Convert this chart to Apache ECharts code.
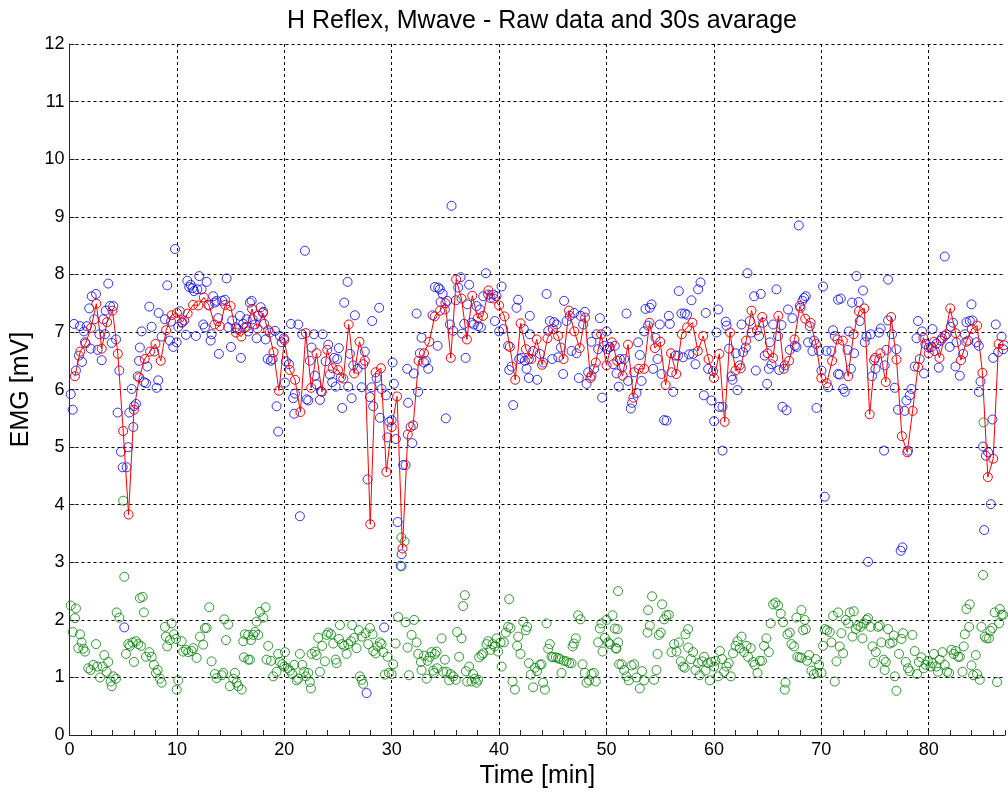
<!DOCTYPE html>
<html><head><meta charset="utf-8">
<script src="https://cdn.jsdelivr.net/npm/echarts@6/dist/echarts.min.js"></script>
<style>html,body{margin:0;padding:0;background:#fff}#c{width:1008px;height:794px}</style>
</head><body><div id="c"></div>
<script>
// 30 s averages (one value every 0.5 min, starting at 0.5 min)
const avgStep = 0.5;
const avgValues = [6.23,6.66,6.80,7.07,7.49,6.71,7.17,7.37,6.62,5.28,3.83,5.65,6.21,6.53,6.66,6.79,6.50,7.03,7.29,7.33,7.17,7.32,7.47,7.46,7.60,7.46,7.13,7.10,
7.47,7.45,6.99,6.92,7.09,7.40,7.06,7.33,7.03,6.65,5.98,6.86,6.34,6.17,5.61,6.98,6.03,6.63,5.96,6.69,6.37,6.34,6.19,7.13,6.28,6.83,6.50,3.66,6.30,
6.37,4.57,5.35,5.88,3.24,5.22,5.38,6.50,6.63,6.83,7.27,7.37,7.50,6.55,7.91,7.58,6.87,7.63,7.24,7.28,7.72,7.58,7.46,7.27,6.74,6.17,7.15,6.70,
6.53,6.87,6.43,6.89,7.05,6.93,6.53,7.37,7.01,6.72,7.25,6.20,6.47,6.96,6.42,6.82,6.50,6.24,6.78,5.86,6.36,6.36,7.16,6.72,6.83,6.08,6.63,6.27,6.96,
7.08,7.16,6.67,6.93,6.53,6.20,6.62,5.44,6.99,6.33,6.37,6.85,7.37,7.03,7.26,6.63,6.55,7.28,6.36,6.50,6.87,7.45,7.23,7.16,6.79,6.20,6.11,6.50,6.87,
6.85,6.23,6.96,7.36,7.41,5.57,6.55,6.63,6.13,7.26,6.52,5.19,4.91,5.63,6.39,6.90,6.63,6.83,6.55,6.93,7.41,6.98,6.51,6.83,7.05,7.11,6.29,4.48,4.80,6.79,6.77];

// H reflex raw data [time min, mV]
const hReflexRaw = [
[0.11,5.92],[0.3,5.65],[0.42,7.14],[0.6,6.33],[0.88,6.59],[0.98,7.10],[1.16,6.48],[1.35,7.01],[1.44,6.82],[1.6,7.10],[1.84,7.41],[1.97,6.71],[2.07,7.62],[2.31,7.22],[2.47,7.66],[2.62,6.69],[2.78,6.96],[3.0,6.51],[3.15,7.22],[3.3,6.96],[3.37,7.37],[3.61,7.84],[3.77,7.45],[3.93,6.81],[4.08,7.45],[4.33,6.87],[4.48,5.60],[4.64,6.33],[4.79,4.92],[4.95,4.65],[5.32,4.65],[5.47,5.0],[5.57,5.60],[5.79,6.01],[5.94,5.35],[6.0,5.71],[6.19,5.75],[6.35,6.23],[6.47,6.50],[6.55,6.73],[6.72,7.01],[6.93,6.13],[7.12,6.11],[7.24,6.40],[7.43,7.44],[7.65,7.09],[7.9,6.66],[8.11,6.03],[8.26,6.16],[8.3,7.33],[8.58,6.92],[8.89,7.22],[9.1,7.81],[9.35,6.85],[9.45,7.18],[9.66,6.74],[9.82,8.44],[9.98,6.82],[10.13,7.09],[10.28,7.36],[10.44,7.16],[10.69,7.20],[10.84,6.95],[10.97,7.89],[11.15,7.78],[11.28,7.82],[11.46,7.76],[11.59,7.71],[11.77,6.93],[11.9,7.74],[12.08,7.97],[12.3,7.74],[12.45,7.13],[12.61,7.08],[12.77,7.87],[12.92,7.47],[13.14,6.85],[13.23,6.96],[13.38,7.62],[13.54,7.51],[13.7,7.54],[13.85,7.24],[13.91,6.62],[5.1,1.87],
[14.22,7.54],[14.47,7.56],[14.63,7.93],[14.78,7.08],[15.03,6.74],[15.15,7.20],[15.47,7.08],[15.66,7.05],[15.87,7.28],[15.96,6.55],[16.18,7.14],[16.33,7.08],[16.49,7.22],[16.64,7.01],[16.8,7.51],[16.96,7.54],[17.05,7.22],[17.27,7.13],[17.42,6.89],[17.57,7.28],[17.8,7.43],[18.04,7.35],[18.13,7.14],[18.26,6.87],[18.45,6.53],[18.66,6.99],[18.75,6.50],[18.91,6.53],[19.13,7.02],[19.28,5.71],[19.43,5.27],[19.59,6.93],[19.75,6.82],[19.96,6.89],[20.06,6.12],[20.15,6.49],[20.43,6.44],[20.62,7.14],[20.83,5.85],[20.99,5.93],[20.92,5.58],[21.3,7.13],[21.45,3.80],[21.67,6.96],[21.92,8.41],[22.08,5.83],[22.23,5.81],[22.38,6.50],[22.54,6.73],[22.76,6.96],[22.85,6.24],[23.0,6.09],[23.32,5.82],[23.41,5.97],[23.57,6.96],[23.85,6.49],[24.09,6.78],[24.25,6.26],[24.46,6.13],[24.65,6.55],[24.78,6.05],[24.93,6.53],[25.08,6.72],[25.27,6.21],[25.39,5.68],[25.58,7.51],[25.89,7.87],[25.95,6.05],[26.11,6.62],[26.27,5.85],[26.42,6.42],[26.57,7.29],[26.82,6.36],[27.2,6.04],[27.35,6.44],[27.5,6.66],[27.75,4.44],[27.97,5.87],[28.13,6.04],[28.18,7.19],[28.28,5.71],[27.66,0.73],[29.3,1.87],
[28.83,7.42],[28.59,6.20],[28.9,5.51],[29.06,6.01],[29.46,5.90],[29.58,5.17],[29.77,5.44],[29.99,5.47],[30.08,6.47],[30.2,6.10],[30.39,5.14],[30.55,3.70],[30.83,2.94],[30.92,3.14],[31.07,4.69],[31.29,4.69],[31.44,6.36],[31.53,5.77],[31.76,5.35],[31.91,5.07],[32.06,6.28],[32.32,7.32],[32.46,5.96],[32.62,6.63],[32.78,6.90],[33.0,6.47],[33.18,6.50],[33.4,6.36],[33.8,7.29],[34.02,7.78],[34.27,6.76],[34.33,7.77],[34.48,7.74],[34.55,7.52],[34.74,7.66],[34.95,7.39],[35.04,5.50],[35.16,7.54],[35.42,7.13],[35.57,9.19],[35.72,7.02],[35.97,7.55],[36.19,7.77],[36.41,7.95],[36.56,6.97],[36.75,7.14],[36.88,6.55],[37.03,7.48],[37.21,7.82],[37.43,7.16],[37.65,7.13],[37.9,7.45],[38.05,7.10],[38.21,7.39],[38.3,7.08],[38.52,7.62],[38.77,8.02],[38.98,7.65],[39.2,7.59],[39.45,7.65],[39.6,7.19],[39.76,7.62],[40.0,7.01],[40.23,7.79],[40.38,7.05],[40.84,6.76],[40.94,6.34],[41.16,6.40],[41.31,5.73],[41.62,7.42],[41.77,7.56],[41.87,6.53],[42.09,6.55],[42.3,7.05],[42.4,6.50],[42.55,6.36],
[42.86,7.28],[42.86,6.96],[42.77,6.53],[42.77,6.20],[43.17,6.67],[43.54,6.17],[43.79,6.62],[44.1,6.47],[44.42,7.66],[44.57,7.02],[44.72,7.19],[44.94,6.53],[45.12,7.17],[45.35,7.13],[45.5,6.56],[45.75,6.73],[45.96,6.27],[46.05,7.54],[46.28,7.19],[46.58,7.28],[46.74,6.67],[46.98,7.33],[47.21,6.63],[47.42,6.20],[47.58,7.28],[47.82,7.13],[47.98,7.35],[48.14,6.10],[48.29,6.30],[48.6,6.24],[48.6,6.83],[48.85,6.36],[49.07,6.96],[49.22,6.70],[49.38,7.24],[49.59,5.86],[49.78,6.76],[50.0,7.01],[50.06,6.70],[50.31,6.74],[50.62,6.44],[50.77,6.76],[50.93,6.28],[51.14,6.05],[51.24,6.53],[51.45,6.39],[51.64,6.53],[51.86,7.32],[52.01,6.15],[52.26,5.67],[52.38,5.77],[52.57,6.30],[52.79,5.94],[52.94,6.82],[53.1,6.60],[53.26,6.15],[53.5,7.01],[53.63,7.40],[53.87,7.11],[54.03,7.42],[54.19,7.48],[54.34,6.36],[54.56,6.90],[54.75,6.53],[54.96,7.13],[55.12,6.27],[55.36,5.47],[55.59,5.46],[55.8,7.28],[55.89,7.14],[56.05,6.30],[56.2,5.96],[56.42,6.59],[56.66,6.59],[56.73,7.71],[56.98,7.32],[57.13,6.56],
[57.29,7.32],[57.5,7.30],[57.69,6.61],[57.91,7.55],[58.06,6.62],[58.28,6.44],[58.53,7.74],[58.75,7.86],[59.06,5.90],[59.24,7.33],[59.46,6.36],[59.77,5.81],[59.92,6.32],[60.02,5.45],[60.39,7.39],[60.24,6.99],[60.48,5.70],[60.8,5.70],[60.8,4.94],[61.1,7.18],[61.17,7.11],[61.41,6.71],[61.63,6.23],[61.73,6.17],[62.03,6.63],[62.19,5.99],[62.41,6.42],[62.57,7.13],[62.71,6.65],[62.97,6.73],[63.12,8.02],[63.34,7.19],[63.5,6.99],[63.74,7.62],[63.9,6.33],[64.2,6.93],[64.36,7.66],[64.58,7.16],[64.73,6.59],[64.95,6.10],[65.11,6.36],[65.2,6.82],[65.36,6.44],[65.51,7.13],[65.82,7.74],[65.97,6.93],[66.07,6.34],[66.29,7.12],[66.38,5.70],[66.6,6.42],[66.76,5.64],[66.9,7.39],[67.06,6.69],[67.31,7.24],[67.53,6.76],[67.68,6.74],[67.9,8.85],[68.06,7.42],[68.24,7.54],[68.39,7.59],[68.55,7.62],[68.76,6.82],[68.92,7.10],[69.17,6.67],[69.32,6.85],[69.55,5.68],[69.79,6.67],[70.01,6.33],[70.16,7.79],[70.32,4.14],[70.48,6.67],[70.63,6.04],[70.94,6.67],[71.09,7.03],[71.25,6.93],[71.56,7.56],[71.56,6.27],
[71.71,6.26],[71.81,7.58],[72.03,6.01],[72.19,5.96],[72.44,6.69],[72.56,7.01],[72.75,6.36],[72.86,7.51],[73.05,6.63],[73.27,7.97],[73.48,7.52],[73.58,7.19],[73.88,7.72],[74.04,6.82],[74.2,6.92],[74.35,3.01],[74.6,6.96],[74.72,6.23],[74.91,6.51],[75.04,6.36],[75.37,6.99],[75.53,7.06],[75.84,4.94],[75.9,6.42],[76.06,6.69],[76.21,7.91],[76.21,7.20],[76.58,6.96],[76.83,6.03],[76.99,6.70],[77.14,5.65],[77.39,3.20],[77.55,3.26],[77.76,5.63],[77.92,5.81],[78.07,4.94],[78.23,5.90],[78.39,6.01],[78.69,6.40],[78.86,6.89],[79.0,7.19],[79.16,6.53],[79.37,7.01],[79.56,6.28],[79.69,6.79],[80.0,6.73],[80.25,6.74],[80.35,7.05],[80.56,6.67],[80.72,6.80],[80.93,6.38],[81.12,6.85],[81.24,6.89],[81.49,8.31],[81.65,6.96],[81.95,6.74],[82.05,7.09],[82.26,7.16],[82.49,6.40],[82.58,6.82],[82.89,6.24],[83.2,6.62],[83.36,6.96],[83.51,7.17],[83.67,6.85],[83.82,7.19],[83.98,7.48],[84.07,7.20],[84.45,6.82],[84.66,6.76],[84.66,5.96],[84.82,6.14],[85.06,5.01],[85.16,3.56],[85.32,4.85],[85.53,4.91],[85.78,4.01],[85.93,5.48],[86.0,6.55],[86.24,7.13],[86.46,6.65],[86.78,6.92],[86.93,6.70]
];

// M wave raw data [time min, mV]
const mWaveRaw = [
[0.11,2.25],[0.6,2.20],[0.51,2.03],[0.3,1.79],[0.98,1.75],[1.13,1.61],[0.82,1.51],[1.29,1.50],[1.44,1.45],[2.47,1.58],[1.75,1.16],[1.97,1.13],[2.22,1.22],[2.59,1.19],[2.84,1.00],[3.09,1.19],[3.24,1.39],[3.46,1.10],[3.61,1.27],[3.83,0.93],[3.93,0.85],[4.08,1.02],[4.33,0.98],[4.39,2.13],[4.64,2.04],[5.1,2.75],[5.26,1.41],[5.47,1.58],[5.63,1.55],[5.88,1.61],[6.0,1.27],[6.19,1.63],[6.4,1.58],[6.56,2.38],[6.81,2.40],[6.93,2.13],[6.65,1.55],[7.12,1.36],[7.43,1.44],[7.65,1.36],[7.86,1.22],[8.05,1.08],[8.21,1.13],[8.42,0.98],[8.58,0.91],[8.89,1.88],[8.98,1.71],[9.1,1.54],[9.35,1.65],[9.51,1.94],[9.73,1.75],[9.91,1.67],[9.98,0.79],[10.13,0.95],[10.44,1.63],[10.59,1.45],[10.84,1.48],[11.06,1.44],[11.37,1.46],[11.52,1.51],[11.84,1.34],[12.15,1.71],[12.45,1.57],[12.61,1.86],[12.77,1.86],[13.01,2.22],[13.23,1.28],[13.54,1.06],[13.7,0.99],[14.17,1.04],[14.31,1.08],[14.57,1.65],[14.41,2.01],[14.78,1.92],[14.94,0.85],[15.25,0.98],[15.4,1.08],[15.56,0.91],[15.71,0.85],[16.03,0.79],[16.18,1.63],[16.33,1.75],[16.24,1.35],[16.64,1.31],[5.0,4.07],
[16.64,1.74],[16.89,1.65],[17.11,1.74],[17.27,1.79],[17.57,1.74],[17.42,1.97],[17.73,2.14],[18.04,2.04],[18.26,2.22],[16.8,1.31],[18.5,1.55],[18.35,1.31],[18.75,1.29],[18.97,1.02],[19.28,1.10],[19.43,1.41],[19.59,1.27],[19.81,1.23],[20.06,1.44],[19.99,1.19],[20.31,1.16],[20.52,1.12],[20.74,1.06],[20.92,1.22],[21.15,0.95],[21.3,0.98],[21.45,1.41],[21.67,1.22],[21.85,1.10],[22.01,1.02],[22.23,1.08],[22.38,0.92],[22.48,0.81],[22.54,1.41],[22.85,1.45],[23.01,1.39],[23.16,1.69],[23.32,1.10],[23.53,1.55],[23.78,1.28],[23.94,1.74],[24.09,1.78],[24.34,1.75],[24.55,1.59],[24.78,1.31],[24.87,1.25],[25.08,1.67],[25.18,1.91],[25.39,1.58],[25.58,1.55],[25.8,1.41],[25.95,1.58],[26.2,1.63],[26.32,1.91],[26.51,1.69],[26.73,1.51],[26.95,1.82],[27.04,1.02],[27.2,0.96],[27.35,0.89],[27.2,1.71],[27.57,1.77],[27.81,1.58],[27.97,1.86],[28.22,1.75],[28.28,1.46],[28.5,1.42],[28.68,1.54],[28.9,1.61],[29.06,1.58],[29.21,1.44],[29.37,1.05],[29.62,1.36],[29.74,1.08],[29.99,1.06],[30.14,1.23],[30.36,1.59],[30.6,2.05],[30.92,2.93],[31.29,1.96],[31.48,1.52],[31.6,1.04],[31.85,1.74],[32.09,2.00],[32.32,1.61],[32.47,1.41],[32.72,1.27],[32.78,1.13],[33.02,1.38],[33.34,1.29],[33.55,1.36],[33.25,0.98],[33.86,1.12],[30.9,3.43],[31.2,3.36],
[33.71,1.44],[34.02,1.41],[34.18,1.45],[33.93,1.08],[34.23,1.16],[34.64,1.68],[34.95,1.31],[34.79,1.10],[35.11,1.10],[35.35,0.95],[35.48,1.06],[35.72,1.02],[35.97,0.96],[36.09,1.79],[36.28,1.36],[36.5,1.68],[36.65,2.24],[36.81,2.43],[36.91,1.11],[37.03,0.93],[37.21,1.19],[37.43,0.93],[37.58,1.06],[37.74,0.98],[37.9,0.91],[38.05,0.96],[38.14,1.35],[38.37,1.39],[38.52,1.42],[38.83,1.58],[38.98,1.63],[39.2,1.48],[39.39,1.58],[39.6,1.54],[39.76,1.68],[39.91,1.45],[40.13,1.61],[40.23,1.19],[40.44,1.61],[40.63,1.78],[40.84,1.88],[40.94,2.36],[41.07,1.86],[41.25,0.93],[41.47,0.79],[41.68,1.55],[41.77,1.71],[41.99,1.41],[42.24,1.97],[42.49,1.82],[42.61,1.88],[42.77,1.25],[42.95,1.05],[43.17,0.83],[43.33,1.17],[43.54,1.11],[43.79,1.22],[43.95,1.23],[44.1,0.91],[44.26,0.79],[44.42,1.94],[44.57,1.50],[44.72,1.58],[44.88,1.36],[45.03,1.35],[45.28,1.35],[45.5,1.34],[45.65,1.32],[45.81,1.08],[46.03,1.29],[46.28,1.28],[46.52,1.25],[46.74,1.25],[46.84,1.54],[46.96,1.59],[47.14,1.68],[47.36,2.08],[47.58,2.01],[47.77,1.23],[47.98,1.08],[48.14,0.91],[48.38,0.95],[48.6,1.06],[48.82,1.08],[49.0,0.93],[49.22,1.61],[49.38,1.85],[49.53,1.94],[49.63,1.45],[49.84,1.69],[50.0,2.00],[50.15,1.61],[50.31,1.58],[50.56,2.08],[50.77,1.85],[50.87,1.51],[51.08,2.50],[51.17,1.23],
[51.02,1.84],[51.4,1.23],[51.64,1.13],[51.86,1.02],[52.08,0.95],[52.33,1.21],[52.57,1.23],[52.79,1.00],[53.1,0.81],[53.31,1.11],[53.5,0.95],[53.87,2.17],[54.03,1.90],[53.82,1.78],[54.24,2.41],[54.43,0.96],[54.65,1.13],[54.75,1.41],[54.87,1.74],[55.05,1.78],[55.17,2.27],[55.36,2.01],[55.58,2.08],[55.8,2.09],[56.05,1.44],[56.29,1.58],[56.52,1.45],[56.73,1.61],[56.92,1.28],[57.13,1.19],[57.29,1.17],[57.35,1.75],[57.6,1.84],[57.6,1.52],[57.85,1.32],[58.06,1.44],[58.28,1.13],[58.53,1.25],[58.68,1.04],[58.9,1.28],[59.08,1.36],[59.22,1.12],[59.46,1.25],[59.62,0.95],[59.77,1.27],[60.02,1.19],[60.14,1.29],[60.39,1.02],[60.55,1.46],[60.76,1.32],[60.95,1.10],[61.17,1.19],[61.38,1.25],[61.57,1.02],[61.78,1.42],[62.01,1.55],[62.19,1.63],[62.41,1.51],[62.57,1.71],[62.81,1.44],[63.03,1.55],[63.18,1.36],[63.43,1.51],[63.65,1.27],[63.8,1.22],[64.05,1.08],[64.27,1.29],[64.48,1.29],[64.67,1.55],[64.89,1.68],[65.11,1.44],[65.29,1.94],[65.51,2.27],[65.73,2.30],[65.97,2.25],[66.22,2.11],[66.44,1.96],[66.66,0.91],[66.6,0.79],[66.85,1.75],[67.06,1.78],[67.22,1.58],[67.46,1.54],[67.68,2.04],[67.77,1.36],[67.99,1.35],[68.15,2.17],[68.3,1.82],[50.93,1.50],[51.08,1.61],
[68.46,2.00],[68.55,1.84],[68.15,1.34],[68.67,1.29],[68.86,1.39],[69.08,1.12],[69.3,1.06],[69.48,1.32],[69.6,1.08],[69.79,1.22],[70.01,1.08],[70.16,1.55],[70.32,1.84],[70.53,1.82],[70.78,1.79],[70.94,1.61],[71.09,2.07],[71.25,0.93],[71.41,1.28],[71.56,2.13],[71.71,1.54],[71.87,1.77],[72.03,1.42],[72.28,2.00],[72.5,1.94],[72.65,2.13],[72.9,1.71],[73.02,2.15],[73.21,1.84],[73.42,1.90],[73.65,1.88],[73.83,1.68],[73.96,1.94],[74.2,2.00],[74.35,2.03],[74.57,1.88],[74.76,1.54],[74.88,1.25],[75.07,1.44],[75.28,1.88],[75.44,1.90],[75.6,1.61],[75.81,1.31],[76.0,1.27],[75.9,1.13],[76.21,1.84],[76.37,1.59],[76.62,1.61],[76.74,1.73],[76.84,1.02],[76.99,0.77],[77.23,1.41],[77.46,1.67],[77.61,1.77],[77.86,1.27],[78.07,1.16],[78.23,1.11],[78.48,1.74],[78.69,1.46],[78.91,1.06],[79.09,1.27],[79.32,1.35],[79.53,1.16],[79.72,1.22],[79.93,1.29],[80.16,1.19],[80.34,1.25],[80.49,1.41],[80.72,1.19],[80.86,1.10],[81.02,1.31],[81.27,1.44],[81.49,1.22],[81.7,1.10],[81.89,1.08],[82.12,1.48],[82.33,1.41],[82.51,1.46],[82.73,1.36],[82.89,1.36],[83.14,1.10],[83.26,1.54],[83.36,1.75],[83.51,2.19],[83.82,2.27],[83.76,1.88],[83.98,1.21],[84.13,1.04],[84.38,1.39],[84.5,1.06],[84.75,0.96],[84.9,1.88],[85.06,2.78],[85.21,1.71],[85.37,1.68],[85.61,1.68],[85.74,1.81],[85.93,1.86],[86.14,2.13],[86.36,0.92],[86.55,1.94],[86.62,2.19],[86.78,2.09],[86.93,2.09],[85.1,5.43]
];

const xMax = 87.1;
const yTicks = [0,1,2,3,4,5,6,7,8,9,10,11,12];
const xTicks = [0,10,20,30,40,50,60,70,80];

const avgData = avgValues.map((v, i) => [(i + 1) * avgStep, v]);
const FONT = "'Liberation Sans', Arial, sans-serif";
const hollow = c => ({ color: 'rgba(0,0,0,0)', borderColor: c, borderWidth: 1 });
const grid = { color: '#000', type: [3, 3], width: 1 };

const chart = echarts.init(document.getElementById('c'), null, { renderer: 'canvas' });
chart.setOption({
  animation: false,
  backgroundColor: '#fff',
  title: {
    text: 'H Reflex, Mwave - Raw data and 30s avarage',
    left: 537, top: 4, textAlign: 'center',
    textStyle: { fontFamily: FONT, fontSize: 25, fontWeight: 'normal', color: '#000' }
  },
  grid: { left: 69.5, right: 3, top: 44, bottom: 53 },
  xAxis: [{
    type: 'value', min: xTicks[0], max: xMax, interval: 10,
    name: 'Time [min]', nameLocation: 'middle', nameGap: 24,
    nameTextStyle: { fontFamily: FONT, fontSize: 25, color: '#000' },
    axisLine: { lineStyle: { color: '#222', width: 1 } },
    axisTick: { inside: true, length: 5, lineStyle: { color: '#222' } },
    axisLabel: { fontFamily: FONT, fontSize: 18, color: '#000', margin: 6, showMaxLabel: false,
      formatter: v => (xTicks.indexOf(v) >= 0 ? String(v) : '') },
    splitLine: { show: true, showMaxLine: false, lineStyle: grid }
  }, {
    type: 'value', min: 0, max: xMax, interval: 2, position: 'bottom', gridIndex: 0,
    axisLine: { show: false },
    axisTick: { inside: true, length: 5, lineStyle: { color: '#222' } },
    axisLabel: { show: false }, splitLine: { show: false }
  }],
  yAxis: {
    type: 'value', min: yTicks[0], max: yTicks[yTicks.length - 1], interval: 1,
    name: 'EMG [mV]', nameLocation: 'middle', nameGap: 22,
    nameTextStyle: { fontFamily: FONT, fontSize: 25, color: '#000' },
    axisLine: { show: true, lineStyle: { color: '#222', width: 1 } },
    axisTick: { show: true, inside: true, length: 5, lineStyle: { color: '#222' } },
    axisLabel: { fontFamily: FONT, fontSize: 18, color: '#000', margin: 5 },
    splitLine: { show: true, lineStyle: grid }
  },
  series: [
    { type: 'scatter', name: 'H reflex', data: hReflexRaw, symbol: 'circle', symbolSize: 9,
      itemStyle: hollow('#0000ff'), emphasis: { disabled: true }, z: 2 },
    { type: 'scatter', name: 'M wave', data: mWaveRaw, symbol: 'circle', symbolSize: 9,
      itemStyle: hollow('#008000'), emphasis: { disabled: true }, z: 3 },
    { type: 'line', name: '30s average', data: avgData, symbol: 'circle', symbolSize: 9,
      showSymbol: true, showAllSymbol: true, lineStyle: { color: '#ff0000', width: 1 },
      itemStyle: hollow('#ff0000'), emphasis: { disabled: true }, z: 4 }
  ]
});
</script></body></html>
